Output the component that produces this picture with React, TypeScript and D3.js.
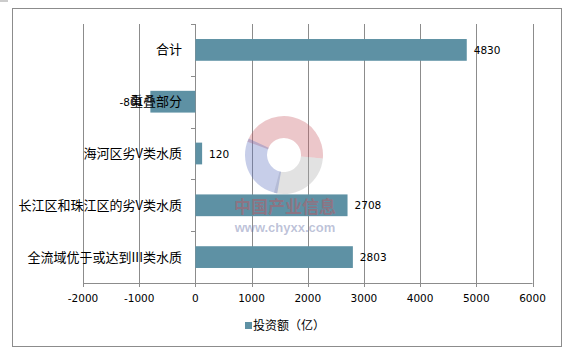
import React from "react";
import * as d3 from "d3";

const categories = ["合计", "重叠部分", "海河区劣V类水质", "长江区和珠江区的劣V类水质", "全流域优于或达到III类水质"];
const values = [4830, -801, 120, 2708, 2803];
const xTicks = [-2000, -1000, 0, 1000, 2000, 3000, 4000, 5000, 6000];
const seriesName = "投资额（亿）";

const W = 569, H = 352;
const BAR = "#5e91a4";
const GRID = "#8c8c8c";
const CJK = "'Noto Sans CJK SC', 'Noto Sans', sans-serif";
const NUM = "'DejaVu Sans', Verdana, sans-serif";

export default function App() {
  const x = d3.scaleLinear().domain([-2000, 6000]).range([83, 532.5]);
  const y = d3.scaleBand().domain(categories).range([24, 283]).paddingInner(0.58).paddingOuter(0.29);
  const yb = d3.scaleBand().domain(categories).range([24, 283]);
  const bounds = categories.map((c) => yb(c)!).concat([283]);

  const ringC = { x: 284, y: 155 };
  const arc = d3.arc<any>().innerRadius(17).outerRadius(39);
  const segs = [
    { s: -70, e: 95, c: "rgba(200,90,100,0.34)" },
    { s: 95, e: 195, c: "rgba(170,170,170,0.34)" },
    { s: 190, e: 295, c: "rgba(90,110,190,0.34)" },
  ];

  return (
    <svg width={W} height={H} style={{ position: "absolute", left: 0, top: 0, background: "#fff" }}>
      <rect x={0} y={0} width={W} height={H} fill="#fff" />
      <line x1={0} y1={1} x2={8} y2={1} stroke="#bbb" strokeWidth={1.5} />
      <rect x={12.5} y={8.5} width={549} height={338} fill="none" stroke={GRID} strokeWidth={1} />
      {xTicks.map((t) => (
        <line key={t} x1={Math.round(x(t)) + 0.5} x2={Math.round(x(t)) + 0.5} y1={24} y2={287} stroke={GRID} strokeWidth={1} />
      ))}
      <line x1={x(-2000)} x2={x(6000)} y1={283.5} y2={283.5} stroke={GRID} />
      {xTicks.map((t) => (
        <text key={"l" + t} x={x(t)} y={302} textAnchor="middle" fontFamily={NUM} fontSize={10.5} fill="#000">
          {t}
        </text>
      ))}
      {bounds.map((b, i) => (
        <line key={"b" + i} x1={191} x2={Math.round(x(0)) + 0.5} y1={Math.round(b) + 0.5} y2={Math.round(b) + 0.5} stroke={GRID} />
      ))}
      {categories.map((c, i) => {
        const v = values[i];
        const x0 = x(Math.min(0, v)), x1 = x(Math.max(0, v));
        return <rect key={c} x={x0} y={y(c)} width={x1 - x0} height={y.bandwidth()} fill={BAR} />;
      })}
      {categories.map((c, i) => {
        const v = values[i];
        const neg = v < 0;
        return (
          <text key={"d" + c} x={neg ? x(v) - 7 : x(v) + 7} y={y(c)! + y.bandwidth() / 2 + 4} textAnchor={neg ? "end" : "start"} fontFamily={NUM} fontSize={10.5} fill="#000">
            {v}
          </text>
        );
      })}
      {categories.map((c) => (
        <text key={"c" + c} x={182} y={y(c)! + y.bandwidth() / 2 + 4.5} textAnchor="end" fontFamily={CJK} fontSize={13} fill="#000">
          {c}
        </text>
      ))}
      <rect x={245} y={322} width={7} height={7} fill={BAR} />
      <text x={253} y={330} fontFamily={CJK} fontSize={12} fill="#000">{seriesName}</text>
      <g transform={`translate(${ringC.x},${ringC.y})`}>
        {segs.map((s, i) => (
          <path key={i} d={arc({ startAngle: (s.s * Math.PI) / 180, endAngle: (s.e * Math.PI) / 180 })!} fill={s.c} />
        ))}
      </g>
      <text x={285} y={213} textAnchor="middle" fontFamily={CJK} fontWeight="bold" fontSize={17} fill="rgba(200,80,90,0.45)">中国产业信息</text>
      <text x={285} y={232} textAnchor="middle" fontFamily="'Liberation Sans', Arial, sans-serif" fontWeight="bold" fontSize={13} fill="rgba(110,120,170,0.45)">www.chyxx.com</text>
    </svg>
  );
}
